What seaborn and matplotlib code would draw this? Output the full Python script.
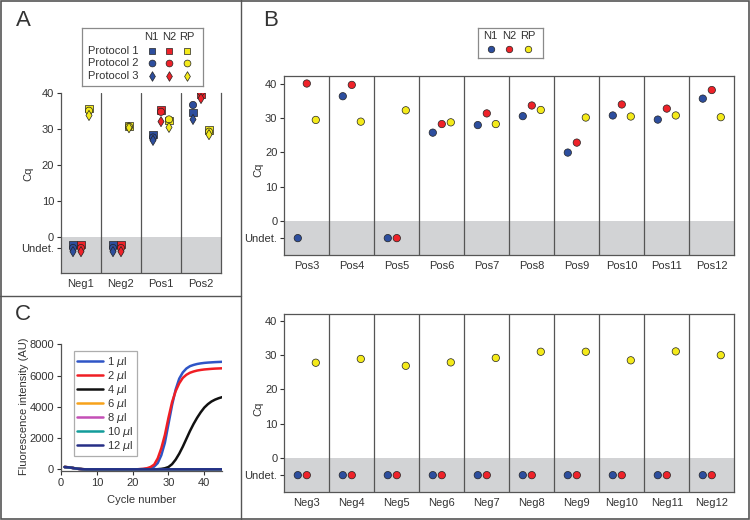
import pandas as pd
import matplotlib
matplotlib.use("Agg")
import matplotlib.pyplot as plt
import seaborn as sns
from matplotlib.lines import Line2D
from matplotlib.patches import Rectangle

# %% data
TARGETS = ["N1", "N2", "RP"]
PROTOCOLS = ["Protocol 1", "Protocol 2", "Protocol 3"]

# panel A: Cq per protocol / target, None = undetermined
A_SAMPLES = ["Neg1", "Neg2", "Pos1", "Pos2"]
P1_N1 = [None, None, 28.5, 34.6]
P1_N2 = [None, None, 35.2, 39.5]
P1_RP = [35.6, 30.8, 32.4, 29.7]
P2_N1 = [None, None, 27.6, 36.6]
P2_N2 = [None, None, 34.7, 40.2]
P2_RP = [35.0, 30.6, 32.6, 29.2]
P3_N1 = [None, None, 26.8, 32.6]
P3_N2 = [None, None, 32.0, 38.4]
P3_RP = [33.7, 30.3, 30.4, 28.4]
A_UNDET_LEVEL = [-2.0, -3.0, -4.0]   # where undetermined wells sit, per protocol

# panel B
POS_SAMPLES = ["Pos3", "Pos4", "Pos5", "Pos6", "Pos7", "Pos8", "Pos9", "Pos10", "Pos11", "Pos12"]
POS_N1 = [None, 36.3, None, 25.7, 27.9, 30.5, 19.9, 30.7, 29.5, 35.6]
POS_N2 = [40.0, 39.6, None, 28.2, 31.3, 33.6, 22.8, 33.9, 32.7, 38.1]
POS_RP = [29.4, 28.9, 32.2, 28.7, 28.2, 32.3, 30.1, 30.4, 30.7, 30.2]
NEG_SAMPLES = ["Neg3", "Neg4", "Neg5", "Neg6", "Neg7", "Neg8", "Neg9", "Neg10", "Neg11", "Neg12"]
NEG_N1 = [None, None, None, None, None, None, None, None, None, None]
NEG_N2 = [None, None, None, None, None, None, None, None, None, None]
NEG_RP = [27.8, 28.9, 26.9, 27.9, 29.2, 31.0, 31.0, 28.5, 31.1, 30.0]
B_UNDET_LEVEL = -5.0

# panel C: amplification curves, cycles 1..45
CYCLES = list(range(1, 46))
VOLUMES = ["1 $\\mu$l", "2 $\\mu$l", "4 $\\mu$l", "6 $\\mu$l", "8 $\\mu$l", "10 $\\mu$l", "12 $\\mu$l"]
F_1UL = [150, 130, 100, 60, 30, 10, 0, 0, 0, 0, 0, 0, 0, 0, 0, 0, 0, 0, 0, 0, 0,
         10, 20, 40, 80, 170, 400, 900, 1700, 2900, 4100, 5100, 5800, 6200, 6450,
         6600, 6680, 6740, 6780, 6810, 6830, 6845, 6860, 6870, 6880]
F_2UL = [150, 130, 100, 60, 30, 10, 0, 0, 0, 0, 0, 0, 0, 0, 0, 0, 0, 0, 0, 0, 0,
         15, 30, 70, 150, 300, 700, 1350, 2200, 3300, 4300, 5000, 5500, 5850, 6050,
         6180, 6260, 6320, 6360, 6390, 6410, 6430, 6445, 6455, 6465]
F_4UL = [150, 130, 100, 60, 30, 10, 0, 0, 0, 0, 0, 0, 0, 0, 0, 0, 0, 0, 0, 0, 0,
         0, 0, 0, 0, 0, 10, 30, 70, 150, 330, 620, 1000, 1450, 1950,
         2450, 2900, 3300, 3650, 3950, 4170, 4340, 4460, 4550, 4620]
F_6UL = [150, 130, 100, 60, 30, 10, 0, 0, 0, 0, 0, 0, 0, 0, 0, 0, 0, 0, 0, 0, 0,
         0, 0, 0, 0, 0, 0, 0, 0, 0, 0, 0, 0, 0, 0, 0, 0, 0, 0, 0, 0, 0, 0, 0, 0]
F_8UL = [140, 120, 90, 55, 25, 8, 0, 0, 0, 0, 0, 0, 0, 0, 0, 0, 0, 0, 0, 0, 0,
         0, 0, 0, 0, 0, 0, 0, 0, 0, 0, 0, 0, 0, 0, 0, 0, 0, 0, 0, 0, 0, 0, 0, 0]
F_10UL = [145, 125, 95, 58, 28, 9, 0, 0, 0, 0, 0, 0, 0, 0, 0, 0, 0, 0, 0, 0, 0,
          0, 0, 0, 0, 0, 0, 0, 0, 0, 0, 0, 0, 0, 0, 0, 0, 0, 0, 0, 0, 0, 0, 0, 0]
F_12UL = [150, 130, 100, 60, 30, 10, 0, 0, 0, 0, 0, 0, 0, 0, 0, 0, 0, 0, 0, 0, 0,
          0, 0, 0, 0, 0, 0, 0, 0, 0, 0, 0, 0, 0, 0, 0, 0, 0, 0, 0, 0, 0, 0, 0, 0]

# %% style
TARGET_COLORS = {"N1": "#2D4E9E", "N2": "#EE2229", "RP": "#F4EA1A"}
PROTOCOL_MARKERS = {"Protocol 1": "s", "Protocol 2": "o", "Protocol 3": "d"}
VOLUME_COLORS = ["#2F55C6", "#F01E24", "#111111", "#F7A21B", "#C44FB6", "#139C9A", "#262F86"]
SHADE = "#D2D3D5"
EDGE = "#555555"
TEXT = "#333333"
OFFSET = {"N1": -0.2, "N2": 0.0, "RP": 0.2}

sns.set_theme(style="white")
plt.rcParams["font.family"] = ["Liberation Sans", "DejaVu Sans"]
plt.rcParams.update({
    "font.size": 8,
    "text.color": TEXT,
    "axes.labelcolor": TEXT,
    "xtick.color": TEXT,
    "ytick.color": TEXT,
    "axes.edgecolor": EDGE,
    "axes.linewidth": 0.9,
})

W, H = 750, 520


def fig_rect(x0, y0, x1, y1):
    # pixel box (from top-left) -> figure fraction rect
    return [x0 / W, 1 - y1 / H, (x1 - x0) / W, (y1 - y0) / H]


def long_table(samples, series, undet_level):
    rows = []
    for (target, protocol), values in series.items():
        for i, v in enumerate(values):
            lvl = undet_level[PROTOCOLS.index(protocol)] if isinstance(undet_level, list) else undet_level
            rows.append({
                "sample": samples[i],
                "target": target,
                "protocol": protocol,
                "xpos": i + OFFSET[target],
                "cq": lvl if v is None else v,
            })
    return pd.DataFrame(rows)


def cq_axes(ax, df, samples, undet_tick, ytop, use_style):
    n = len(samples)
    ax.axhspan(-10, 0, color=SHADE, lw=0, zorder=0)
    for i in range(1, n):
        ax.axvline(i - 0.5, color=EDGE, lw=0.9, zorder=1)
    kw = dict(style="protocol", markers=PROTOCOL_MARKERS, s=27) if use_style else dict(marker="o", s=28)
    sns.scatterplot(data=df, x="xpos", y="cq", hue="target", palette=TARGET_COLORS,
                    edgecolor="#222222", linewidth=0.5, legend=False, ax=ax, zorder=3, **kw)
    ax.set_xlim(-0.5, n - 0.5)
    ax.set_ylim(-10, ytop)
    ax.set_xticks(range(n), samples)
    ax.set_yticks([undet_tick, 0, 10, 20, 30, 40], ["Undet.", "0", "10", "20", "30", "40"])
    ax.tick_params(axis="x", length=0, pad=4, labelsize=8)
    ax.tick_params(axis="y", length=3, width=0.8, pad=2, labelsize=8, left=True)
    ax.set_xlabel("")
    ax.set_ylabel("Cq", fontsize=8)


fig = plt.figure(figsize=(W / 100, H / 100), dpi=100)

# %% panel A
a_series = {
    ("N1", "Protocol 1"): P1_N1, ("N2", "Protocol 1"): P1_N2, ("RP", "Protocol 1"): P1_RP,
    ("N1", "Protocol 2"): P2_N1, ("N2", "Protocol 2"): P2_N2, ("RP", "Protocol 2"): P2_RP,
    ("N1", "Protocol 3"): P3_N1, ("N2", "Protocol 3"): P3_N2, ("RP", "Protocol 3"): P3_RP,
}
df_a = long_table(A_SAMPLES, a_series, A_UNDET_LEVEL)
ax_a = fig.add_axes(fig_rect(61, 92.7, 221, 273.3))
cq_axes(ax_a, df_a, A_SAMPLES, -3, 40, use_style=True)
ax_a.spines["top"].set_visible(False)
ax_a.yaxis.set_label_coords(-0.175, 0.55)

# legend A drawn as a little table
lax = fig.add_axes(fig_rect(81.7, 28.3, 203.3, 85.7))
lax.set_xlim(81.7, 203.3)
lax.set_ylim(85.7, 28.3)
lax.set_xticks([])
lax.set_yticks([])
for s in lax.spines.values():
    s.set_color("#8a8a8a")
    s.set_linewidth(0.9)
col_x = [151.7, 169.0, 187.3]
row_y = [50.7, 63.0, 76.0]
for t, cx in zip(TARGETS, col_x):
    lax.text(cx, 37, t, ha="center", va="center", fontsize=8)
for p, ry in zip(PROTOCOLS, row_y):
    lax.text(88, ry, p, ha="left", va="center", fontsize=8)
    for t, cx in zip(TARGETS, col_x):
        lax.scatter(cx, ry, marker=PROTOCOL_MARKERS[p], s=16 if p == "Protocol 1" else 24,
                    color=TARGET_COLORS[t], edgecolor="#222222", linewidth=0.5)

# %% panel B
pos_series = {("N1", "Protocol 1"): POS_N1, ("N2", "Protocol 1"): POS_N2, ("RP", "Protocol 1"): POS_RP}
neg_series = {("N1", "Protocol 1"): NEG_N1, ("N2", "Protocol 1"): NEG_N2, ("RP", "Protocol 1"): NEG_RP}
df_pos = long_table(POS_SAMPLES, pos_series, B_UNDET_LEVEL)
df_neg = long_table(NEG_SAMPLES, neg_series, B_UNDET_LEVEL)

ax_b1 = fig.add_axes(fig_rect(284.3, 76.3, 734.3, 255.3))
cq_axes(ax_b1, df_pos, POS_SAMPLES, B_UNDET_LEVEL, 42.1, use_style=False)
ax_b1.yaxis.set_label_coords(-0.047, 0.48)

ax_b2 = fig.add_axes(fig_rect(284.3, 313.7, 734.3, 492.3))
cq_axes(ax_b2, df_neg, NEG_SAMPLES, B_UNDET_LEVEL, 42.1, use_style=False)
ax_b2.yaxis.set_label_coords(-0.047, 0.47)

lbx = fig.add_axes(fig_rect(478.3, 28, 542.7, 58.3))
lbx.set_xlim(478.3, 542.7)
lbx.set_ylim(58.3, 28)
lbx.set_xticks([])
lbx.set_yticks([])
for s in lbx.spines.values():
    s.set_color("#8a8a8a")
    s.set_linewidth(0.9)
for t, cx in zip(TARGETS, [490.7, 508.8, 527.7]):
    lbx.text(cx, 36, t, ha="center", va="center", fontsize=8)
    lbx.scatter(cx, 49, marker="o", s=22, color=TARGET_COLORS[t], edgecolor="#222222", linewidth=0.5)

# %% panel C
curves = [F_1UL, F_2UL, F_4UL, F_6UL, F_8UL, F_10UL, F_12UL]
df_c = pd.DataFrame([
    {"cycle": c, "fluor": f, "volume": vol}
    for vol, vals in zip(VOLUMES, curves)
    for c, f in zip(CYCLES, vals)
])
ax_c = fig.add_axes(fig_rect(61, 344.3, 222.2, 470.9))
sns.lineplot(data=df_c, x="cycle", y="fluor", hue="volume", hue_order=VOLUMES,
             palette=dict(zip(VOLUMES, VOLUME_COLORS)), linewidth=1.8, legend=False, ax=ax_c)
ax_c.set_xlim(0, 45)
ax_c.set_ylim(-100, 8000)
ax_c.set_xticks([0, 10, 20, 30, 40])
ax_c.set_yticks([0, 2000, 4000, 6000, 8000])
ax_c.spines["top"].set_visible(False)
ax_c.spines["right"].set_visible(False)
ax_c.tick_params(length=3, width=0.8, pad=2, labelsize=8, left=True, bottom=True)
ax_c.set_xlabel("Cycle number", fontsize=8)
ax_c.set_ylabel("Fluorescence intensity (AU)", fontsize=8)
ax_c.yaxis.set_label_coords(-0.2, 0.51)
ax_c.xaxis.set_label_coords(0.5, -0.19)
handles = [Line2D([], [], color=c, lw=1.8) for c in VOLUME_COLORS]
leg = ax_c.legend(handles, VOLUMES, loc="upper left", bbox_to_anchor=(0.08, 0.945),
                  fontsize=8, frameon=True, fancybox=False, edgecolor="#999999",
                  borderpad=0.3, labelspacing=0.0, handlelength=2.3, handletextpad=0.4,
                  borderaxespad=0)
leg.get_frame().set_linewidth(0.9)

# %% panel letters, dividers, outer frame
fig.text(23 / W, 1 - 21 / H, "A", fontsize=16, ha="center", va="center")
fig.text(271 / W, 1 - 21 / H, "B", fontsize=16, ha="center", va="center")
fig.text(23 / W, 1 - 315 / H, "C", fontsize=16, ha="center", va="center")
fig.add_artist(Line2D([241 / W, 241 / W], [0, 1], color=EDGE, lw=1.0, transform=fig.transFigure))
fig.add_artist(Line2D([0, 241 / W], [1 - 296 / H, 1 - 296 / H], color=EDGE, lw=1.0, transform=fig.transFigure))
fig.add_artist(Rectangle((0.001, 0.002), 0.998, 0.996, fill=False, edgecolor=EDGE, lw=1.2,
                         transform=fig.transFigure))

fig.savefig("out.png", dpi=100)
